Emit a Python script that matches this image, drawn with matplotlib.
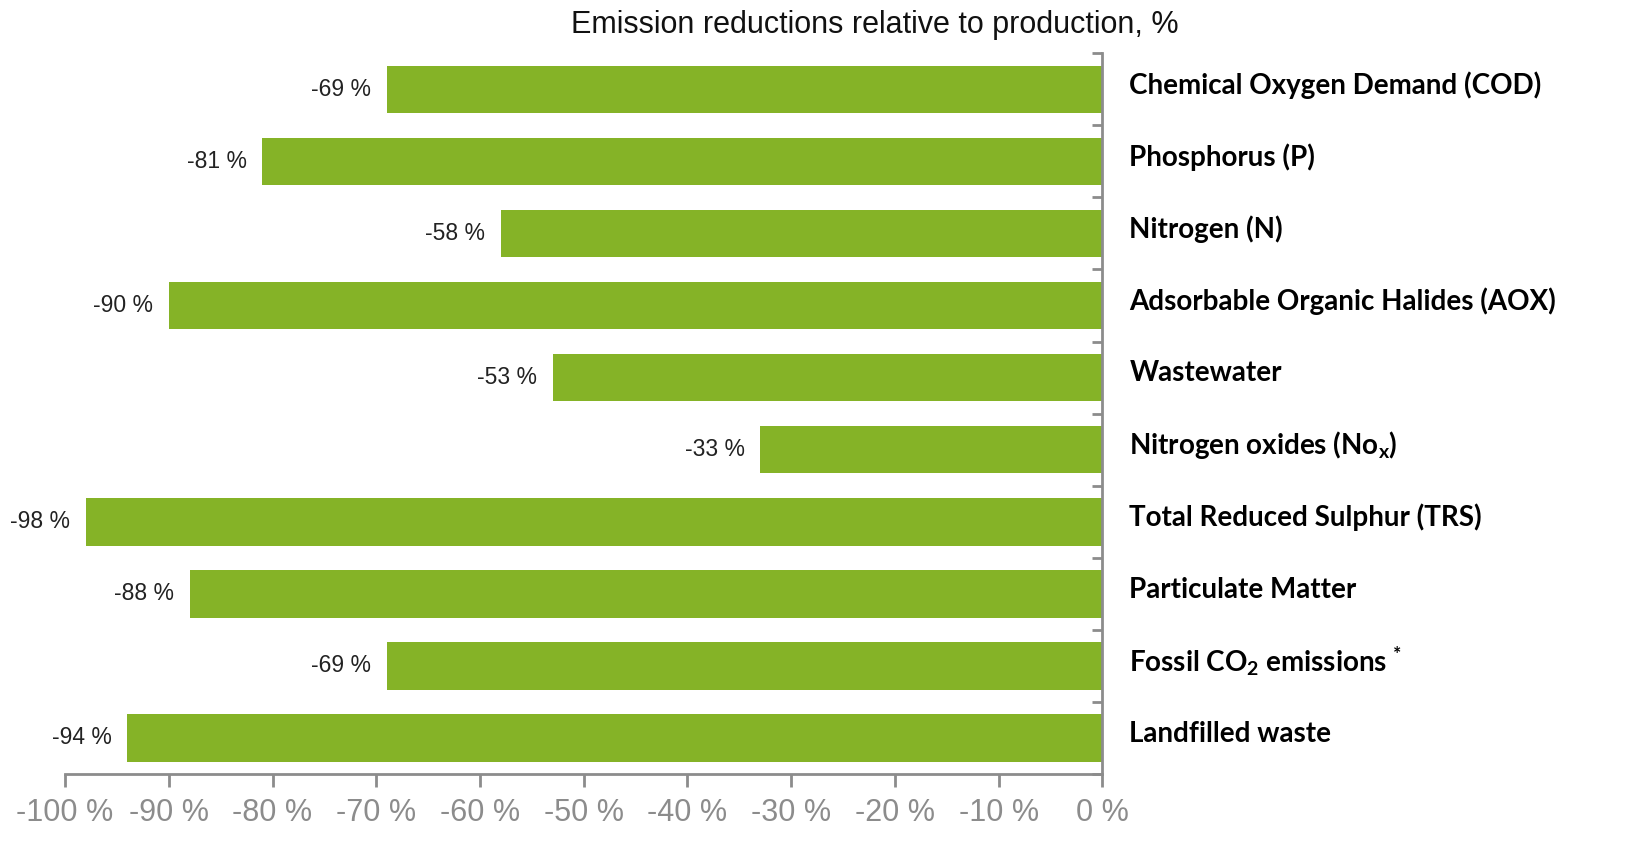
import matplotlib
matplotlib.use("Agg")
import matplotlib.pyplot as plt
import numpy as np

# Data
categories = [
    "Chemical Oxygen Demand (COD)",
    "Phosphorus (P)",
    "Nitrogen (N)",
    "Adsorbable Organic Halides (AOX)",
    "Wastewater",
    "Nitrogen oxides (No$_\\mathregular{x}$)",
    "Total Reduced Sulphur (TRS)",
    "Particulate Matter",
    "Fossil CO$_\\mathregular{2}$ emissions $^\\mathregular{*}$",
    "Landfilled waste",
]
values = [-69, -81, -58, -90, -53, -33, -98, -88, -69, -94]
xticks = list(range(-100, 1, 10))
title = "Emission reductions relative to production, %"

bar_color = "#85b327"
grey = "#8c8c8c"

plt.rcParams["mathtext.fontset"] = "custom"
plt.rcParams["mathtext.rm"] = "Lato:bold"
plt.rcParams["mathtext.it"] = "Lato:bold"
plt.rcParams["mathtext.bf"] = "Lato:bold"

fig = plt.figure(figsize=(16.26, 8.55), dpi=100)
ax = fig.add_axes([0.040, 0.0947, 0.638, 0.843])

y = np.arange(len(categories))
ax.barh(y, values, height=0.66, color=bar_color, edgecolor="none")
ax.set_ylim(len(categories) - 0.5, -0.5)
ax.set_xlim(-100, 0)

# value labels left of each bar
for yi, v in zip(y, values):
    ax.text(v - 1.5, yi, f"{v} %", ha="right", va="center",
            fontsize=16.5, family="Liberation Sans", color="#222222")

# category labels right of the zero line
for yi, name in zip(y, categories):
    ax.text(2.6, yi - 0.06, name, ha="left", va="center", fontsize=20,
            family="Lato", fontweight="bold", color="black", clip_on=False)

# axes styling
for s in ["top", "left"]:
    ax.spines[s].set_visible(False)
for s in ["bottom", "right"]:
    ax.spines[s].set_color(grey)
    ax.spines[s].set_linewidth(2)

ax.set_xticks(xticks)
ax.set_xticklabels([f"{t} %" for t in xticks], fontsize=22,
                   family="Liberation Sans", color=grey)
ax.tick_params(axis="x", direction="out", length=9, width=2, color=grey, pad=8)

ax.yaxis.tick_right()
ax.set_yticks(np.arange(-0.5, len(categories), 1.0))
ax.set_yticklabels([])
# ticks on the zero line point left, between the bars
ax.tick_params(axis="y", direction="in", length=7, width=2, color=grey,
               right=True, left=False)

fig.text(0.538, 0.971, title, ha="center", va="center", fontsize=22,
         family="Liberation Sans", color="#111111")

fig.savefig("out.png", dpi=100)
